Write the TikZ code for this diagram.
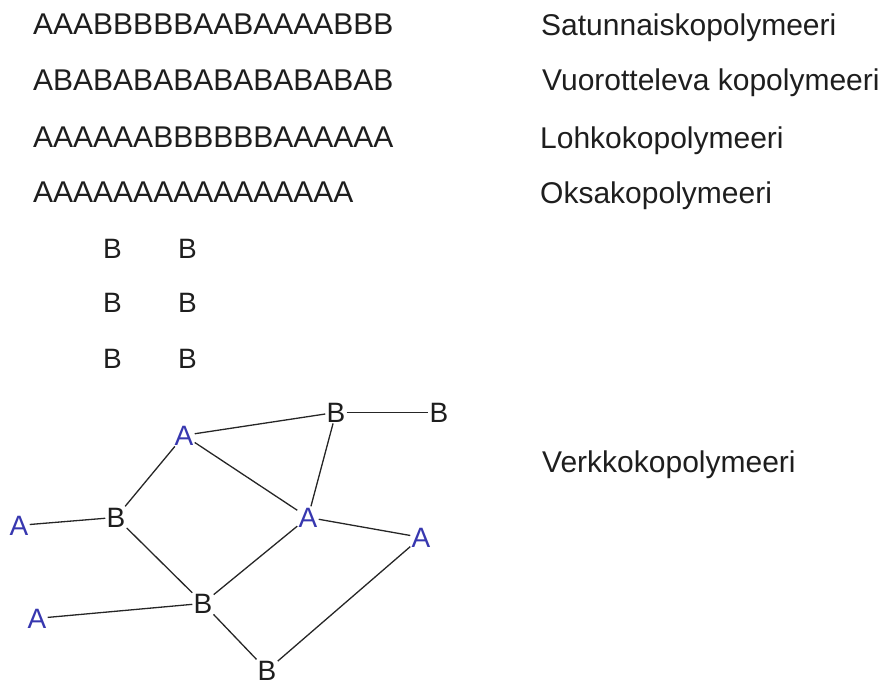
\documentclass[tikz,border=0pt]{standalone}
\usepackage{fontspec}
\setmainfont{Liberation Sans}
\definecolor{txt}{RGB}{30,30,30}
\definecolor{mblue}{RGB}{55,55,175}
\begin{document}
\begin{tikzpicture}[x=1pt,y=-1pt,
  lbl/.style={anchor=base west,inner sep=0pt,text=txt,font=\fontsize{30}{36}\selectfont},
  graft/.style={lbl,font=\fontsize{28}{34}\selectfont},
  mono/.style={anchor=base,inner sep=1.2pt,font=\fontsize{28}{34}\selectfont},
  monoA/.style={mono,text=mblue},
  monoB/.style={mono,text=txt},
  bond/.style={line width=1.3pt,draw=black!85}]
\useasboundingbox (0,0) rectangle (894,686);
% sequences
\node[lbl] (s1) at (33,34) {AAABBBBBAABAAAABBB};
\node[lbl] (s2) at (33,90) {ABABABABABABABABAB};
\node[lbl] (s3) at (33,147) {AAAAAABBBBBBAAAAAA};
\node[lbl] (s4) at (33,202) {AAAAAAAAAAAAAAAA};
% labels
\node[lbl] (l1) at (541,35) {Satunnaiskopolymeeri};
\node[lbl] (l2) at (542,90) {Vuorotteleva kopolymeeri};
\node[lbl] (l3) at (540,148) {Lohkokopolymeeri};
\node[lbl] (l4) at (540,203) {Oksakopolymeeri};
\node[lbl] (l5) at (542,472) {Verkkokopolymeeri};
% graft branches
\node[graft] (g11) at (103,258) {B};
\node[graft] (g12) at (178,258) {B};
\node[graft] (g21) at (103,312) {B};
\node[graft] (g22) at (178,312) {B};
\node[graft] (g31) at (103,368) {B};
\node[graft] (g32) at (178,368) {B};
% network
\node[monoA] (A1) at (184,445) {A};
\node[monoB] (B1) at (336,422) {B};
\node[monoB] (B2) at (439,422) {B};
\node[monoB] (B3) at (116,527) {B};
\node[monoA] (A2) at (19,535) {A};
\node[monoA] (A3) at (308,527) {A};
\node[monoA] (A4) at (421,547) {A};
\node[monoB] (B4) at (203,613) {B};
\node[monoA] (A5) at (37,628) {A};
\node[monoB] (B5) at (267,680) {B};
\draw[bond] (A1) -- (B1);
\draw[bond] (B1) -- (B2);
\draw[bond] (A1) -- (B3);
\draw[bond] (A1) -- (A3);
\draw[bond] (B1) -- (A3);
\draw[bond] (A2) -- (B3);
\draw[bond] (A3) -- (A4);
\draw[bond] (B3) -- (B4);
\draw[bond] (A3) -- (B4);
\draw[bond] (A5) -- (B4);
\draw[bond] (B4) -- (B5);
\draw[bond] (A4) -- (B5);
\end{tikzpicture}
\end{document}
